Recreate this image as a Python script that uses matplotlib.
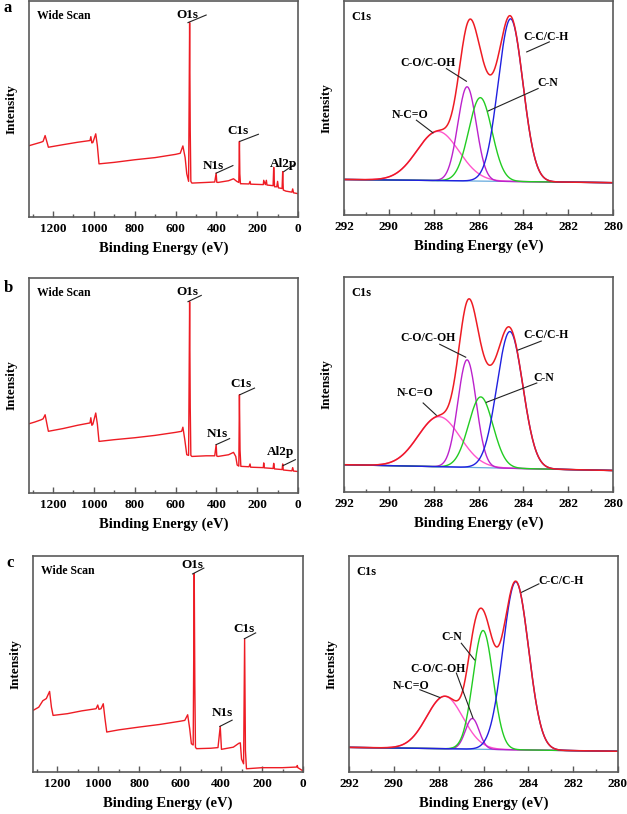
import numpy as np
import matplotlib
matplotlib.use("Agg")
import matplotlib.pyplot as plt
from matplotlib.ticker import MultipleLocator

plt.rcParams['font.family'] = ['Liberation Serif', 'DejaVu Serif']
plt.rcParams['font.weight'] = 'bold'

# ---------------- DATA ----------------
# Survey (wide scan) traces: vertices (binding energy eV, intensity a.u.)
survey_a_be = [1318, 1300, 1260, 1249, 1239, 1228, 1223, 1150, 1080, 1019, 1015, 1010, 1005, 991, 983, 975,
               900, 800, 700, 600, 577, 564, 553, 545, 536, 533, 531, 528, 525, 520, 450, 408, 401, 398,
               392, 340, 316, 300, 290, 287, 285, 282, 278, 240, 235, 232, 170, 168, 160, 155, 152, 122, 119,
               115, 104, 100, 96, 78, 75, 72, 60, 30, 26, 22, 0]
survey_a_int = [33.0, 33.5, 34.6, 35.0, 37.7, 34.0, 32.3, 33.5, 34.6, 35.4, 37.2, 34.3, 34.5, 38.5, 33.0, 24.6,
                25.3, 26.5, 27.5, 29.0, 29.5, 32.9, 27.5, 20.0, 16.5, 60.0, 90.0, 40.0, 16.5, 15.7, 16.0, 16.2,
                20.3, 16.1, 16.0, 16.8, 17.7, 16.5, 16.0, 35.0, 20.0, 15.4, 15.4, 15.3, 16.5, 15.2, 15.0, 17.0,
                15.0, 17.0, 14.8, 14.5, 23.0, 14.0, 14.0, 16.5, 13.5, 13.2, 21.0, 12.5, 12.0, 11.5, 13.0, 11.2,
                10.8]

survey_b_be = [1318, 1290, 1260, 1249, 1239, 1228, 1223, 1150, 1080, 1019, 1015, 1010, 1005, 991, 983, 975,
               900, 800, 700, 600, 570, 564, 555, 545, 536, 533, 531, 528, 525, 520, 450, 408, 401, 398,
               392, 340, 316, 305, 298, 290, 287, 284, 280, 240, 235, 232, 170, 168, 165, 122, 119, 115,
               78, 75, 72, 30, 26, 22, 0]
survey_b_int = [32.2, 33.0, 34.0, 34.5, 36.4, 31.0, 28.7, 30.0, 31.5, 32.6, 35.0, 31.5, 32.0, 37.2, 32.0, 24.0,
                24.8, 25.7, 26.8, 28.2, 28.7, 30.6, 25.0, 17.8, 17.5, 60.0, 89.0, 40.0, 17.5, 17.0, 17.3, 17.3,
                22.5, 17.2, 17.0, 17.8, 18.9, 17.0, 13.0, 12.5, 45.7, 20.0, 12.4, 12.2, 13.5, 12.0, 11.8, 14.0,
                11.7, 11.4, 13.8, 11.2, 10.9, 13.5, 10.7, 10.3, 11.8, 10.2, 10.0]

survey_c_be = [1318, 1290, 1270, 1253, 1237, 1228, 1220, 1150, 1080, 1010, 1002, 996, 986, 975, 967, 958,
               900, 800, 700, 600, 577, 563, 553, 545, 536, 533, 531, 528, 525, 520, 450, 415, 404, 398,
               392, 340, 313, 306, 300, 290, 285, 281, 276, 200, 100, 30, 28, 25, 0]
survey_c_int = [28.5, 30.0, 33.0, 34.0, 37.3, 30.0, 26.2, 27.0, 28.3, 29.3, 31.0, 29.0, 29.3, 31.6, 25.0, 18.5,
                19.5, 20.8, 22.0, 23.5, 23.9, 26.5, 20.0, 13.1, 12.5, 60.0, 91.8, 40.0, 11.5, 10.8, 11.0, 11.3,
                21.1, 10.5, 10.6, 11.5, 13.3, 13.5, 6.0, 3.8, 61.7, 10.0, 1.5, 2.0, 2.0, 2.3, 3.0, 2.0, 0.5]

# C1s high-resolution fits: component peak parameters (center eV, height a.u., FWHM eV)
c1s_labels = ['C-C/C-H', 'C-N', 'C-O/C-OH', 'N-C=O']
c1s_a_center = [284.57, 285.92, 286.51, 287.81]
c1s_a_height = [76.0, 39.0, 44.0, 23.0]
c1s_a_fwhm = [1.30, 1.22, 0.97, 2.2]
c1s_a_baseline = [16.6, 15.1]   # at 292 eV and 280 eV

c1s_b_center = [284.60, 285.90, 286.51, 287.76]
c1s_b_height = [63.6, 32.9, 50.0, 23.3]
c1s_b_fwhm = [1.36, 1.28, 0.97, 2.2]
c1s_b_baseline = [12.7, 10.0]

c1s_c_center = [284.56, 286.02, 286.50, 287.73]
c1s_c_height = [77.8, 55.0, 14.2, 24.3]
c1s_c_fwhm = [1.34, 1.05, 0.72, 1.9]
c1s_c_baseline = [11.4, 9.6]

survey_xticks = [1200, 1000, 800, 600, 400, 200, 0]
c1s_xticks = [292, 290, 288, 286, 284, 282, 280]

# ---------------- LAYOUT ----------------
W, H = 627, 814
fig = plt.figure(figsize=(W / 100, H / 100), dpi=100)


def rect(x0, x1, y0, y1):
    return [x0 / W, 1 - y1 / H, (x1 - x0) / W, (y1 - y0) / H]


RED = '#ee1c24'
comp_colors = {'C-C/C-H': '#2020e0', 'C-N': '#22cc22', 'C-O/C-OH': '#bb22cc', 'N-C=O': '#ff55cc'}
FRAME = '#5a5a5a'


def style_axes(ax, xlim, minor, xticks):
    ax.set_xlim(*xlim)
    ax.set_ylim(0, 100)
    ax.set_yticks([])
    ax.set_xticks(xticks)
    ax.xaxis.set_minor_locator(MultipleLocator(minor))
    ax.tick_params(axis='x', which='major', direction='in', length=4, width=1, colors=FRAME,
                   labelcolor='black', labelsize=9.5, pad=4)
    ax.tick_params(axis='x', which='minor', direction='in', length=2.5, width=1, colors=FRAME)
    for s in ax.spines.values():
        s.set_color(FRAME)
        s.set_linewidth(1.2)
    ax.set_xlabel('Binding Energy (eV)', fontsize=10.5, fontweight='bold', labelpad=5)
    ax.set_ylabel('Intensity', fontsize=9.5, fontweight='bold', labelpad=8)


def annot(ax, text, tx, ty, p0, p1, fs=8.5):
    ax.text(tx, ty, text, ha='center', va='center', fontsize=fs, fontweight='bold')
    ax.plot([p0[0], p1[0]], [p0[1], p1[1]], color='#222222', lw=0.8)


def survey(rect_px, be, inten, notes, letter, letter_xy):
    ax = fig.add_axes(rect(*rect_px))
    ax.plot(be, inten, color=RED, lw=1.0)
    style_axes(ax, (1318, 0), 100, survey_xticks)
    ax.text(0.028, 0.93, 'Wide Scan', transform=ax.transAxes, fontsize=8.5, fontweight='bold',
            ha='left', va='center')
    for n in notes:
        annot(ax, *n, fs=9.5)
    fig.text(letter_xy[0] / W, 1 - letter_xy[1] / H, letter, fontsize=12, fontweight='bold',
             ha='center', va='center')
    return ax


def gauss(x, c, h, w):
    return h * np.exp(-4 * np.log(2) * (x - c) ** 2 / w ** 2)


def c1s(rect_px, centers, heights, fwhms, baseline, notes):
    ax = fig.add_axes(rect(*rect_px))
    x = np.linspace(292, 280, 600)
    base = np.interp(x, [280, 292], [baseline[1], baseline[0]])
    total = base.copy()
    order = ['N-C=O', 'C-O/C-OH', 'C-N', 'C-C/C-H']
    comps = {}
    for lab, c, h, w in zip(c1s_labels, centers, heights, fwhms):
        comps[lab] = gauss(x, c, h, w)
        total = total + comps[lab]
    ax.plot(x, base, color='#66aadd', lw=0.9)
    for lab in order:
        ax.plot(x, base + comps[lab], color=comp_colors[lab], lw=1.0)
    ax.plot(x, total, color=RED, lw=1.1)
    style_axes(ax, (292, 280), 1, c1s_xticks)
    ax.text(0.027, 0.925, 'C1s', transform=ax.transAxes, fontsize=9, fontweight='bold',
            ha='left', va='center')
    for n in notes:
        annot(ax, *n, fs=8.5)
    return ax


# panel a
survey((29, 298, 1, 217), survey_a_be, survey_a_int,
       [('O1s', 540, 93.5, (539, 90), (450, 93.5)),
        ('C1s', 294, 39.7, (285, 35), (194, 38.3)),
        ('N1s', 414, 23.8, (401, 20.3), (319, 23.8)),
        ('Al2p', 70, 24.6, (70, 21), (13, 24.6))],
       'a', (8, 8))
c1s((344, 613, 1, 215), c1s_a_center, c1s_a_height, c1s_a_fwhm, c1s_a_baseline,
    [('C-C/C-H', 282.97, 83.0, (283.85, 76.2), (282.84, 80.9)),
     ('C-O/C-OH', 288.25, 70.8, (287.43, 68.4), (286.54, 62.5)),
     ('C-N', 282.9, 61.7, (283.34, 59.1), (285.57, 48.6)),
     ('N-C=O', 289.07, 46.7, (288.77, 44.3), (288.03, 38.4))])

# panel b
survey((29, 298, 278, 493), survey_b_be, survey_b_int,
       [('O1s', 540, 93.5, (539, 89), (474, 91.9)),
        ('C1s', 280, 50.9, (285, 45.7), (213, 48.8)),
        ('N1s', 397, 27.6, (401, 22.5), (335, 25.3)),
        ('Al2p', 87, 18.9, (74, 12.7), (13, 15.5))],
       'b', (8, 288))
c1s((344, 613, 277, 492), c1s_b_center, c1s_b_height, c1s_b_fwhm, c1s_b_baseline,
    [('C-C/C-H', 282.97, 73.2, (284.24, 66.0), (283.2, 70.2)),
     ('C-O/C-OH', 288.25, 71.6, (287.73, 68.7), (286.57, 62.7)),
     ('C-N', 283.1, 53.0, (285.65, 41.7), (283.4, 50.7)),
     ('N-C=O', 288.85, 46.0, (288.47, 41.4), (287.88, 35.7))])

# panel c
survey((33, 303, 556, 772), survey_c_be, survey_c_int,
       [('O1s', 540, 96.0, (539, 91.7), (484, 94.4)),
        ('C1s', 288, 66.0, (286, 61.7), (231, 64.4)),
        ('N1s', 394, 27.3, (406, 21.1), (346, 24.0))],
       'c', (10, 563))
c1s((349, 618, 556, 772), c1s_c_center, c1s_c_height, c1s_c_fwhm, c1s_c_baseline,
    [('C-C/C-H', 282.53, 88.6, (284.3, 83.2), (283.53, 87.1)),
     ('C-N', 287.43, 62.7, (286.4, 51.9), (286.99, 59.6)),
     ('C-O/C-OH', 288.03, 47.6, (287.21, 45.8), (286.47, 25.0)),
     ('N-C=O', 289.22, 39.9, (288.84, 38.1), (287.95, 34.5))])

fig.savefig('out.png', dpi=100)
